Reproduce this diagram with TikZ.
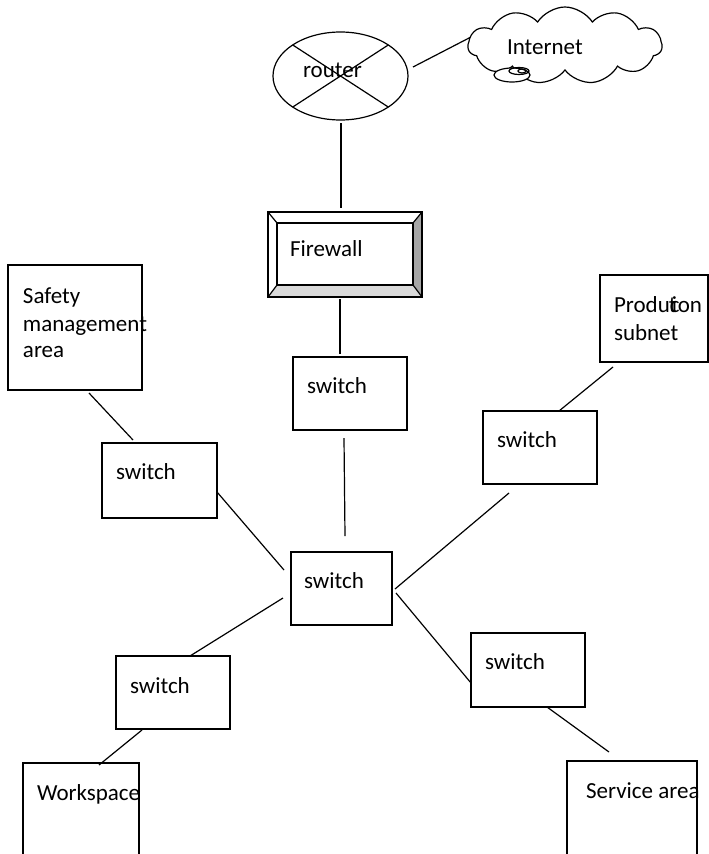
\documentclass[tikz,border=0pt]{standalone}
\usepackage{fontspec}
\setmainfont{Carlito}
\usetikzlibrary{shapes.geometric,shapes.symbols,calc}

\definecolor{bevdark}{RGB}{166,166,166}
\definecolor{bevlight}{RGB}{217,217,217}

\begin{document}
\begin{tikzpicture}[x=1pt,y=-1pt,line width=1.2pt,
  box/.style 2 args={draw, rectangle, inner sep=0pt, outer sep=0pt,
    minimum width=#1, minimum height=#2},
  frame/.style 2 args={rectangle, inner sep=0pt, outer sep=0pt,
    minimum width=#1, minimum height=#2},
  lbl/.style={anchor=base west, inner sep=0pt, outer sep=0pt,
    font=\fontsize{23}{27.5}\selectfont},
  link/.style={draw, line width=1.2pt}]

\useasboundingbox (0,0) rectangle (709,854);
\clip (0,0) rectangle (709,854);

% router
\node[draw, ellipse, inner sep=0pt, outer sep=0pt,
  minimum width=135pt, minimum height=88pt] (router) at (340.5,76) {};
\draw (router.33) -- (router.213);
\draw (router.147) -- (router.327);
\node[lbl] (t-router) at (303,77) {router};

% internet cloud
\node[draw, cloud, cloud puffs=11, cloud puff arc=115, aspect=2.5,
  inner sep=0pt, outer sep=0pt, minimum width=194pt, minimum height=77pt]
  (cloud) at (565,45.5) {};
\draw[fill=white] (512,75) ellipse [x radius=18pt, y radius=7pt];
\draw (519,71) ellipse [x radius=10pt, y radius=3.5pt];
\draw (522,71) ellipse [x radius=4pt, y radius=2pt];
\node[lbl] (t-cloud) at (507,54) {Internet};

% firewall with bevelled frame
\node[frame={154pt}{85pt}] (fw) at (345,254.5) {};
\coordinate (fwi-nw) at ($(fw.north west)+(9,11)$);
\coordinate (fwi-ne) at ($(fw.north east)+(-9,11)$);
\coordinate (fwi-sw) at ($(fw.south west)+(9,-12)$);
\coordinate (fwi-se) at ($(fw.south east)+(-9,-12)$);
\fill[bevdark] (fw.north east) -- (fw.south east) -- (fwi-se) -- (fwi-ne) -- cycle;
\fill[bevlight] (fw.south west) -- (fw.south east) -- (fwi-se) -- (fwi-sw) -- cycle;
\draw (fw.north west) rectangle (fw.south east);
\draw (fwi-nw) rectangle (fwi-se);
\draw (fw.north west) -- (fwi-nw);
\draw (fw.north east) -- (fwi-ne);
\draw (fw.south west) -- (fwi-sw);
\draw (fw.south east) -- (fwi-se);
\node[lbl] (t-fw) at (290,256) {Firewall};

% switches
\node[box={114pt}{73pt}] (s1) at (350,393.5) {};
\node[lbl] (t-s1) at (307,393) {switch};
\node[box={101pt}{73pt}] (sc) at (341.5,588.5) {};
\node[lbl] (t-sc) at (304,588) {switch};
\node[box={114pt}{73pt}] (sr) at (540,447.5) {};
\node[lbl] (t-sr) at (497,447) {switch};
\node[box={114pt}{74pt}] (slr) at (528,670) {};
\node[lbl] (t-slr) at (485,669) {switch};
\node[box={114pt}{73pt}] (sll) at (173,692.5) {};
\node[lbl] (t-sll) at (130,693) {switch};
\node[box={115pt}{75pt}] (sl) at (159.5,480.5) {};
\node[lbl] (t-sl) at (116,479) {switch};

% areas
\node[box={134pt}{125pt}] (safety) at (75,327.5) {};
\node[lbl] (t-safety1) at (23,303) {Safety};
\node[lbl] (t-safety2) at (23,331) {management};
\node[lbl] (t-safety3) at (23,357) {area};

\node[box={108pt}{87pt}] (prod) at (654,318.5) {};
\node[lbl] (t-prod1) at (614,312)
  {Produ\makebox[8pt][l]{\rlap{c}\hspace{-1pt}\rlap{t}\hspace{3pt}i}on};
\node[lbl] (t-prod2) at (614,340) {subnet};

\node[box={116pt}{97pt}] (work) at (81,811.5) {};
\node[lbl] (t-work) at (37,800) {Workspace};

\node[box={130pt}{99pt}] (service) at (632,810.5) {};
\node[lbl] (t-service) at (586,798) {Service area};

% connections
\path[link] ($(router.east)+(5,-9)$) -- ($(cloud.center)+(-95,-8)$);
\path[link] ($(router.south)+(0.5,3)$) -- ($(fw.north)+(-4,-4)$);
\path[link] ($(fw.south)+(-5,2)$) -- ($(s1.north)+(-10,-3)$);
\path[link] ($(s1.south)+(-6,8)$) -- ($(sc.north)+(3.5,-16)$);
\path[link] ($(sl.north)+(-26.5,-3)$) -- ($(safety.south)+(14,3)$);
\path[link] ($(sl.east)+(0,11.5)$) -- ($(sc.west)+(-7,-18.5)$);
\path[link] ($(sr.north)+(19,0)$) -- ($(prod.south)+(-41,5)$);
\path[link] ($(sr.south)+(-31,9)$) -- ($(sc.east)+(3,0.5)$);
\path[link] ($(sc.east)+(4,4.5)$) -- ($(slr.west)+(0,13)$);
\path[link] ($(sc.west)+(-8,9.5)$) -- ($(sll.north)+(17,0)$);
\path[link] ($(sll.south)+(-31,1)$) -- ($(work.north)+(18,2)$);
\path[link] ($(slr.south)+(19,0)$) -- ($(service.north)+(-23,-9)$);

\end{tikzpicture}
\end{document}
